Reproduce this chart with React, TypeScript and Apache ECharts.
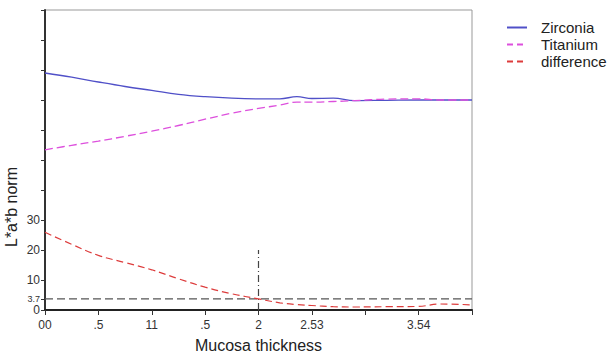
import React, { useEffect, useRef } from "react";
import * as echarts from "echarts";

const thickness = [0, 0.25, 0.5, 0.75, 1.0, 1.25, 1.5, 1.75, 2.0, 2.2, 2.36, 2.5, 2.7, 2.9, 3.2, 3.5, 3.7, 4.0];
const zirconia = [79.0, 77.6, 76.0, 74.5, 73.2, 71.9, 71.1, 70.6, 70.4, 70.4, 71.1, 70.5, 70.6, 69.8, 69.9, 70.0, 70.0, 70.0];
const titanium = [53.4, 54.9, 56.3, 57.9, 59.6, 61.5, 63.6, 65.6, 67.2, 68.3, 69.3, 69.3, 69.5, 69.8, 70.3, 70.4, 70.0, 70.0];
const difference = [25.9, 21.9, 18.2, 15.8, 13.4, 10.4, 7.6, 5.4, 3.7, 2.4, 1.8, 1.5, 1.1, 1.0, 1.1, 1.2, 2.0, 1.7];

const xTickLabels = ["00", ".5", "11", ".5", "2", "2.53", "", "3.54", ""];
const yTickValues = [0, 3.7, 10, 20, 30, 40, 50, 60, 70, 80, 90, 100];
const yLabelValues = [0, 3.7, 10, 20, 30];
const thresholdValue = 3.7;
const crossThickness = 2;
const crossTop = 20;

const pairs = (ys: number[]) => thickness.map((x, i) => [x, ys[i]]);

export default function App() {
  const ref = useRef<HTMLDivElement>(null);
  useEffect(() => {
    if (!ref.current) return;
    const chart = echarts.init(ref.current, null, { renderer: "svg" });
    const font = "Liberation Sans, Arial, sans-serif";
    chart.setOption({
      animation: false,
      textStyle: { fontFamily: font },
      grid: {
        left: 45,
        right: 140,
        top: 10,
        bottom: 45,
        outerBoundsMode: "none",
        containLabel: false,
        show: true,
        borderColor: "#999",
        borderWidth: 1,
      },
      legend: {
        data: [
          { name: "Zirconia", itemStyle: { opacity: 0 }, lineStyle: { type: "solid" } },
          { name: "Titanium", itemStyle: { opacity: 0 }, lineStyle: { type: [6, 4] } },
          { name: "difference", itemStyle: { opacity: 0 }, lineStyle: { type: [6, 4] } },
        ],
        orient: "vertical",
        left: 501,
        top: 15,
        itemWidth: 20,
        itemHeight: 10,
        itemGap: 2,
        itemStyle: { opacity: 0 },
        textStyle: { fontSize: 15, color: "#222", fontFamily: font, padding: [0, 0, 0, 9] },
      },
      xAxis: {
        type: "value",
        min: 0,
        max: 4,
        interval: 0.5,
        name: "Mucosa thickness",
        nameLocation: "middle",
        nameGap: 27,
        nameTextStyle: { fontSize: 16, color: "#222" },
        axisLine: { show: true, lineStyle: { color: "#222", width: 2 } },
        axisTick: { show: true, length: 5, lineStyle: { color: "#333" } },
        axisLabel: {
          fontSize: 12,
          color: "#333",
          margin: 9,
          showMaxLabel: true,
          showMinLabel: true,
          formatter: (v: number) => xTickLabels[Math.round(v / 0.5)] ?? "",
        },
        splitLine: { show: false },
      },
      yAxis: {
        type: "value",
        min: 0,
        max: 100,
        interval: 10,
        axisLine: { show: true, lineStyle: { color: "#333", width: 2 } },
        axisTick: { show: true, length: 4, customValues: yTickValues, lineStyle: { color: "#333" } },
        axisLabel: {
          fontSize: 12,
          color: "#333",
          margin: 5,
          customValues: yLabelValues,
          formatter: (v: number) => (Math.abs(v - 3.7) < 1e-6 ? "{s|3.7}" : String(v)),
          rich: { s: { fontSize: 9, color: "#333" } },
        },
        splitLine: { show: false },
      },
      graphic: [
        {
          type: "text",
          x: 11,
          y: 207,
          rotation: Math.PI / 2,
          style: {
            text: "L*a*b norm",
            fontSize: 16,
            fill: "#222",
            fontFamily: font,
            textAlign: "center",
            textVerticalAlign: "middle",
          },
        },
      ],
      series: [
        {
          name: "Zirconia",
          type: "line",
          smooth: 0.4,
          symbol: "none",
          data: pairs(zirconia),
          lineStyle: { color: "#5050c8", width: 1.3 },
          itemStyle: { color: "#5050c8" },
          z: 3,
        },
        {
          name: "Titanium",
          type: "line",
          smooth: 0.4,
          symbol: "none",
          data: pairs(titanium),
          lineStyle: { color: "#dd50dd", width: 1.3, type: [8, 4] },
          itemStyle: { color: "#dd50dd" },
          z: 4,
        },
        {
          name: "difference",
          type: "line",
          smooth: 0.4,
          symbol: "none",
          data: pairs(difference),
          lineStyle: { color: "#dd3c3c", width: 1.2, type: [7, 4] },
          itemStyle: { color: "#dd3c3c" },
          z: 4,
        },
        {
          name: "threshold",
          type: "line",
          symbol: "none",
          silent: true,
          data: [
            [0, thresholdValue],
            [4, thresholdValue],
          ],
          lineStyle: { color: "#555", width: 1.3, type: [8, 4] },
          z: 2,
        },
        {
          name: "cross",
          type: "line",
          symbol: "none",
          silent: true,
          data: [
            [crossThickness, 0],
            [crossThickness, crossTop],
          ],
          lineStyle: { color: "#444", width: 1.2, type: [7, 3, 1, 3] },
          z: 2,
        },
      ],
    });
    return () => chart.dispose();
  }, []);
  return (
    <div
      ref={ref}
      style={{ position: "absolute", left: 0, top: 0, width: 612, height: 355, background: "#fff" }}
    />
  );
}
